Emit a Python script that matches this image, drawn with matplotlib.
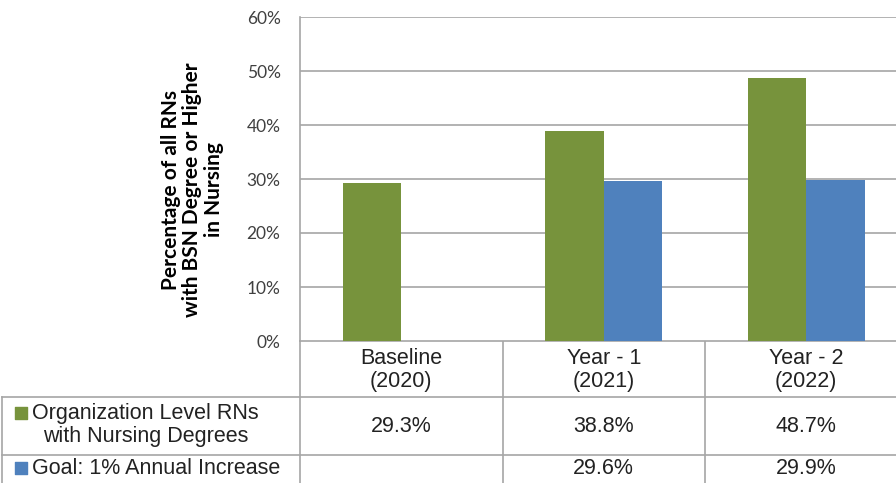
import numpy as np
import matplotlib
matplotlib.use("Agg")
import matplotlib.pyplot as plt

# data
categories = ["Baseline\n(2020)", "Year - 1\n(2021)", "Year - 2\n(2022)"]
org_rns = [29.3, 38.8, 48.7]
goal = [np.nan, 29.6, 29.9]
series_names = ["Organization Level RNs\nwith Nursing Degrees", "Goal: 1% Annual Increase"]
yticks = [0, 10, 20, 30, 40, 50, 60]

green = "#77933C"
blue = "#4F81BD"
grid_c = "#A6A6A6"
txt_c = "#222222"

W, H = 896, 483
fig = plt.figure(figsize=(W / 100, H / 100), dpi=100)

# chart area in pixels
ax_l, ax_t, ax_b, cat_w = 300, 17, 341, 202.5
ax_r = ax_l + cat_w * len(categories)
ax = fig.add_axes([ax_l / W, 1 - ax_b / H, (ax_r - ax_l) / W, (ax_b - ax_t) / H])

x = np.arange(len(categories))
bw = 0.29
ax.bar(x - bw / 2, org_rns, bw, color=green, zorder=3)
ax.bar(x + bw / 2, goal, bw, color=blue, zorder=3)

ax.set_xlim(-0.5, len(categories) - 0.5)
ax.set_ylim(0, 60)
ax.set_yticks(yticks)
ax.set_yticklabels([f"{v}%" for v in yticks], family="Lato", fontsize=12.5, color="#404040")
ax.tick_params(axis="y", length=0, pad=14)
ax.set_xticks([])
ax.yaxis.grid(True, color=grid_c, lw=1.2, zorder=0)
for s in ["top", "right", "bottom"]:
    ax.spines[s].set_visible(False)
ax.spines["left"].set_color(grid_c)
ax.spines["left"].set_linewidth(1.2)

ax.set_ylabel("Percentage of all RNs\nwith BSN Degree or Higher\nin Nursing",
              family="Lato", fontweight="bold", fontsize=15, color="black",
              linespacing=1.1)
ax.yaxis.set_label_coords((224 - ax_l) / (ax_r - ax_l), (ax_b - 190) / (ax_b - ax_t))

# data table below the chart, drawn on an overlay in pixel coordinates
ov = fig.add_axes([0, 0, 1, 1], zorder=-1)
ov.set_xlim(0, W)
ov.set_ylim(H, 0)
ov.axis("off")

row_y = [ax_b, 397, 455, 513]
row_c = [370, 426, 469]
lw = 1.2
# horizontal rules
ov.plot([ax_l, ax_r], [row_y[0]] * 2, color=grid_c, lw=lw)
for y in row_y[1:]:
    ov.plot([2, ax_r], [y] * 2, color=grid_c, lw=lw)
# vertical rules
ov.plot([2, 2], [row_y[1], row_y[-1]], color=grid_c, lw=lw)
for i in range(len(categories) + 1):
    xx = ax_l + i * cat_w
    ov.plot([xx, xx], [row_y[0], row_y[-1]], color=grid_c, lw=lw)

tfont = dict(family="Liberation Sans", fontsize=15.5, color=txt_c)
for i, c in enumerate(categories):
    cx = ax_l + (i + 0.5) * cat_w
    ov.text(cx, row_c[0], c, ha="center", va="center", linespacing=1.13, **tfont)
    for r, vals in enumerate([org_rns, goal]):
        if not np.isnan(vals[i]):
            ov.text(cx, row_c[r + 1], f"{vals[i]:.1f}%",
                    ha="center", va="center", **tfont)

for r, (name, col) in enumerate(zip(series_names, [green, blue])):
    cy = row_c[r + 1] - 1
    ov.scatter([21], [cy - (12 if r == 0 else 0)], marker="s", s=70, color=col)
    ov.text(32, cy, name, ha="left", va="center", linespacing=1.17,
            multialignment="center", **tfont)

fig.savefig("out.png", dpi=100)
